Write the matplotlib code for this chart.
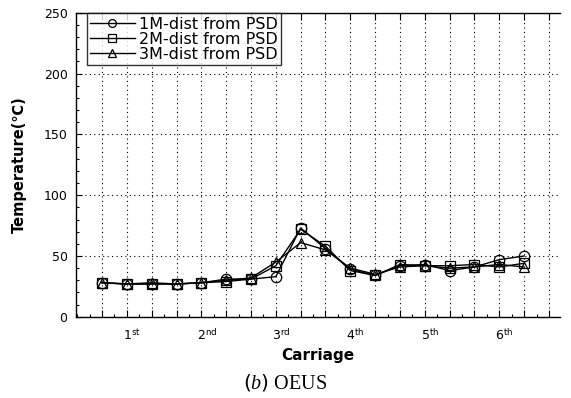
import matplotlib
matplotlib.use('Agg')
from matplotlib import pyplot as plt
from matplotlib.ticker import MultipleLocator

dist_1m = [28, 27, 27, 27, 28, 31, 31, 33, 73, 56, 39, 34, 42, 43, 38, 41, 47, 50]
dist_2m = [28, 27, 27, 27, 28, 29, 31, 42, 72, 58, 38, 34, 43, 42, 42, 43, 41, 44]
dist_3m = [28, 27, 28, 27, 28, 30, 32, 45, 61, 55, 40, 35, 41, 42, 40, 41, 43, 41]
series_labels = ['1M-dist from PSD', '2M-dist from PSD', '3M-dist from PSD']
carriages = ['1$^{\\mathrm{st}}$', '2$^{\\mathrm{nd}}$', '3$^{\\mathrm{rd}}$',
             '4$^{\\mathrm{th}}$', '5$^{\\mathrm{th}}$', '6$^{\\mathrm{th}}$']
carriage_pos = [2, 5, 8, 11, 14, 17]

plt.rcParams['font.family'] = ['DejaVu Sans']
plt.rcParams['mathtext.fontset'] = 'custom'
plt.rcParams['mathtext.rm'] = 'DejaVu Sans'
plt.rcParams['mathtext.it'] = 'Liberation Serif:italic'

fig = plt.figure(figsize=(5.71, 3.98), dpi=100)
ax = fig.add_axes([0.133, 0.204, 0.848, 0.764])

x = list(range(1, len(dist_1m) + 1))
markers = ['o', 's', '^']
for vals, mk, lab in zip([dist_1m, dist_2m, dist_3m], markers, series_labels):
    ax.plot(x, vals, color='black', lw=1.0, marker=mk, markersize=7.5,
            markerfacecolor='none', markeredgecolor='black',
            markeredgewidth=0.9, label=lab)

ax.set_xlim(-0.05, 19.45)
ax.set_ylim(0, 250)

# vertical grid on every point position, horizontal every 50
ax.set_xticks(range(1, 20))
ax.set_xticklabels([])
ax.xaxis.set_minor_locator(MultipleLocator(0.5))
ax.set_yticks([0, 50, 100, 150, 200, 250])
ax.yaxis.set_minor_locator(MultipleLocator(10))
ax.grid(True, which='major', color='black', linestyle=(0, (1, 3)), lw=0.8)

ax.tick_params(axis='x', which='major', direction='in', length=5, width=0.8,
               top=True)
ax.tick_params(axis='x', which='minor', direction='in', length=2.5, width=0.8,
               top=False)
ax.tick_params(axis='y', which='major', direction='in', length=4, width=0.8,
               labelsize=9, pad=6)
ax.tick_params(axis='y', which='minor', direction='in', length=2.5, width=0.8)
ax.spines['right'].set_visible(False)
for s in ['left', 'bottom', 'top']:
    ax.spines[s].set_linewidth(1.0)

trans = ax.get_xaxis_transform()
for pos, lab in zip(carriage_pos, carriages):
    ax.text(pos - 0.17, -0.035, lab, transform=trans, ha='left', va='top',
            fontsize=9)

ax.set_xlabel('Carriage', fontsize=11, fontweight='bold', labelpad=19)
ax.set_ylabel('Temperature(\u2103)', fontsize=10.5, fontweight='bold',
              labelpad=12)

leg = ax.legend(loc='upper left', fontsize=11.5, frameon=True, fancybox=False,
                edgecolor='black', borderpad=0.2, labelspacing=0.0,
                handlelength=2.8, handletextpad=0.3, markerscale=0.75,
                borderaxespad=0, bbox_to_anchor=(0.022, 0.998))
leg.get_frame().set_linewidth(1.0)

fig.text(0.5, 0.037, '$(b)$ OEUS', ha='center', va='center', fontsize=14.5,
         family='Liberation Serif')

fig.savefig('out.png', dpi=100)
